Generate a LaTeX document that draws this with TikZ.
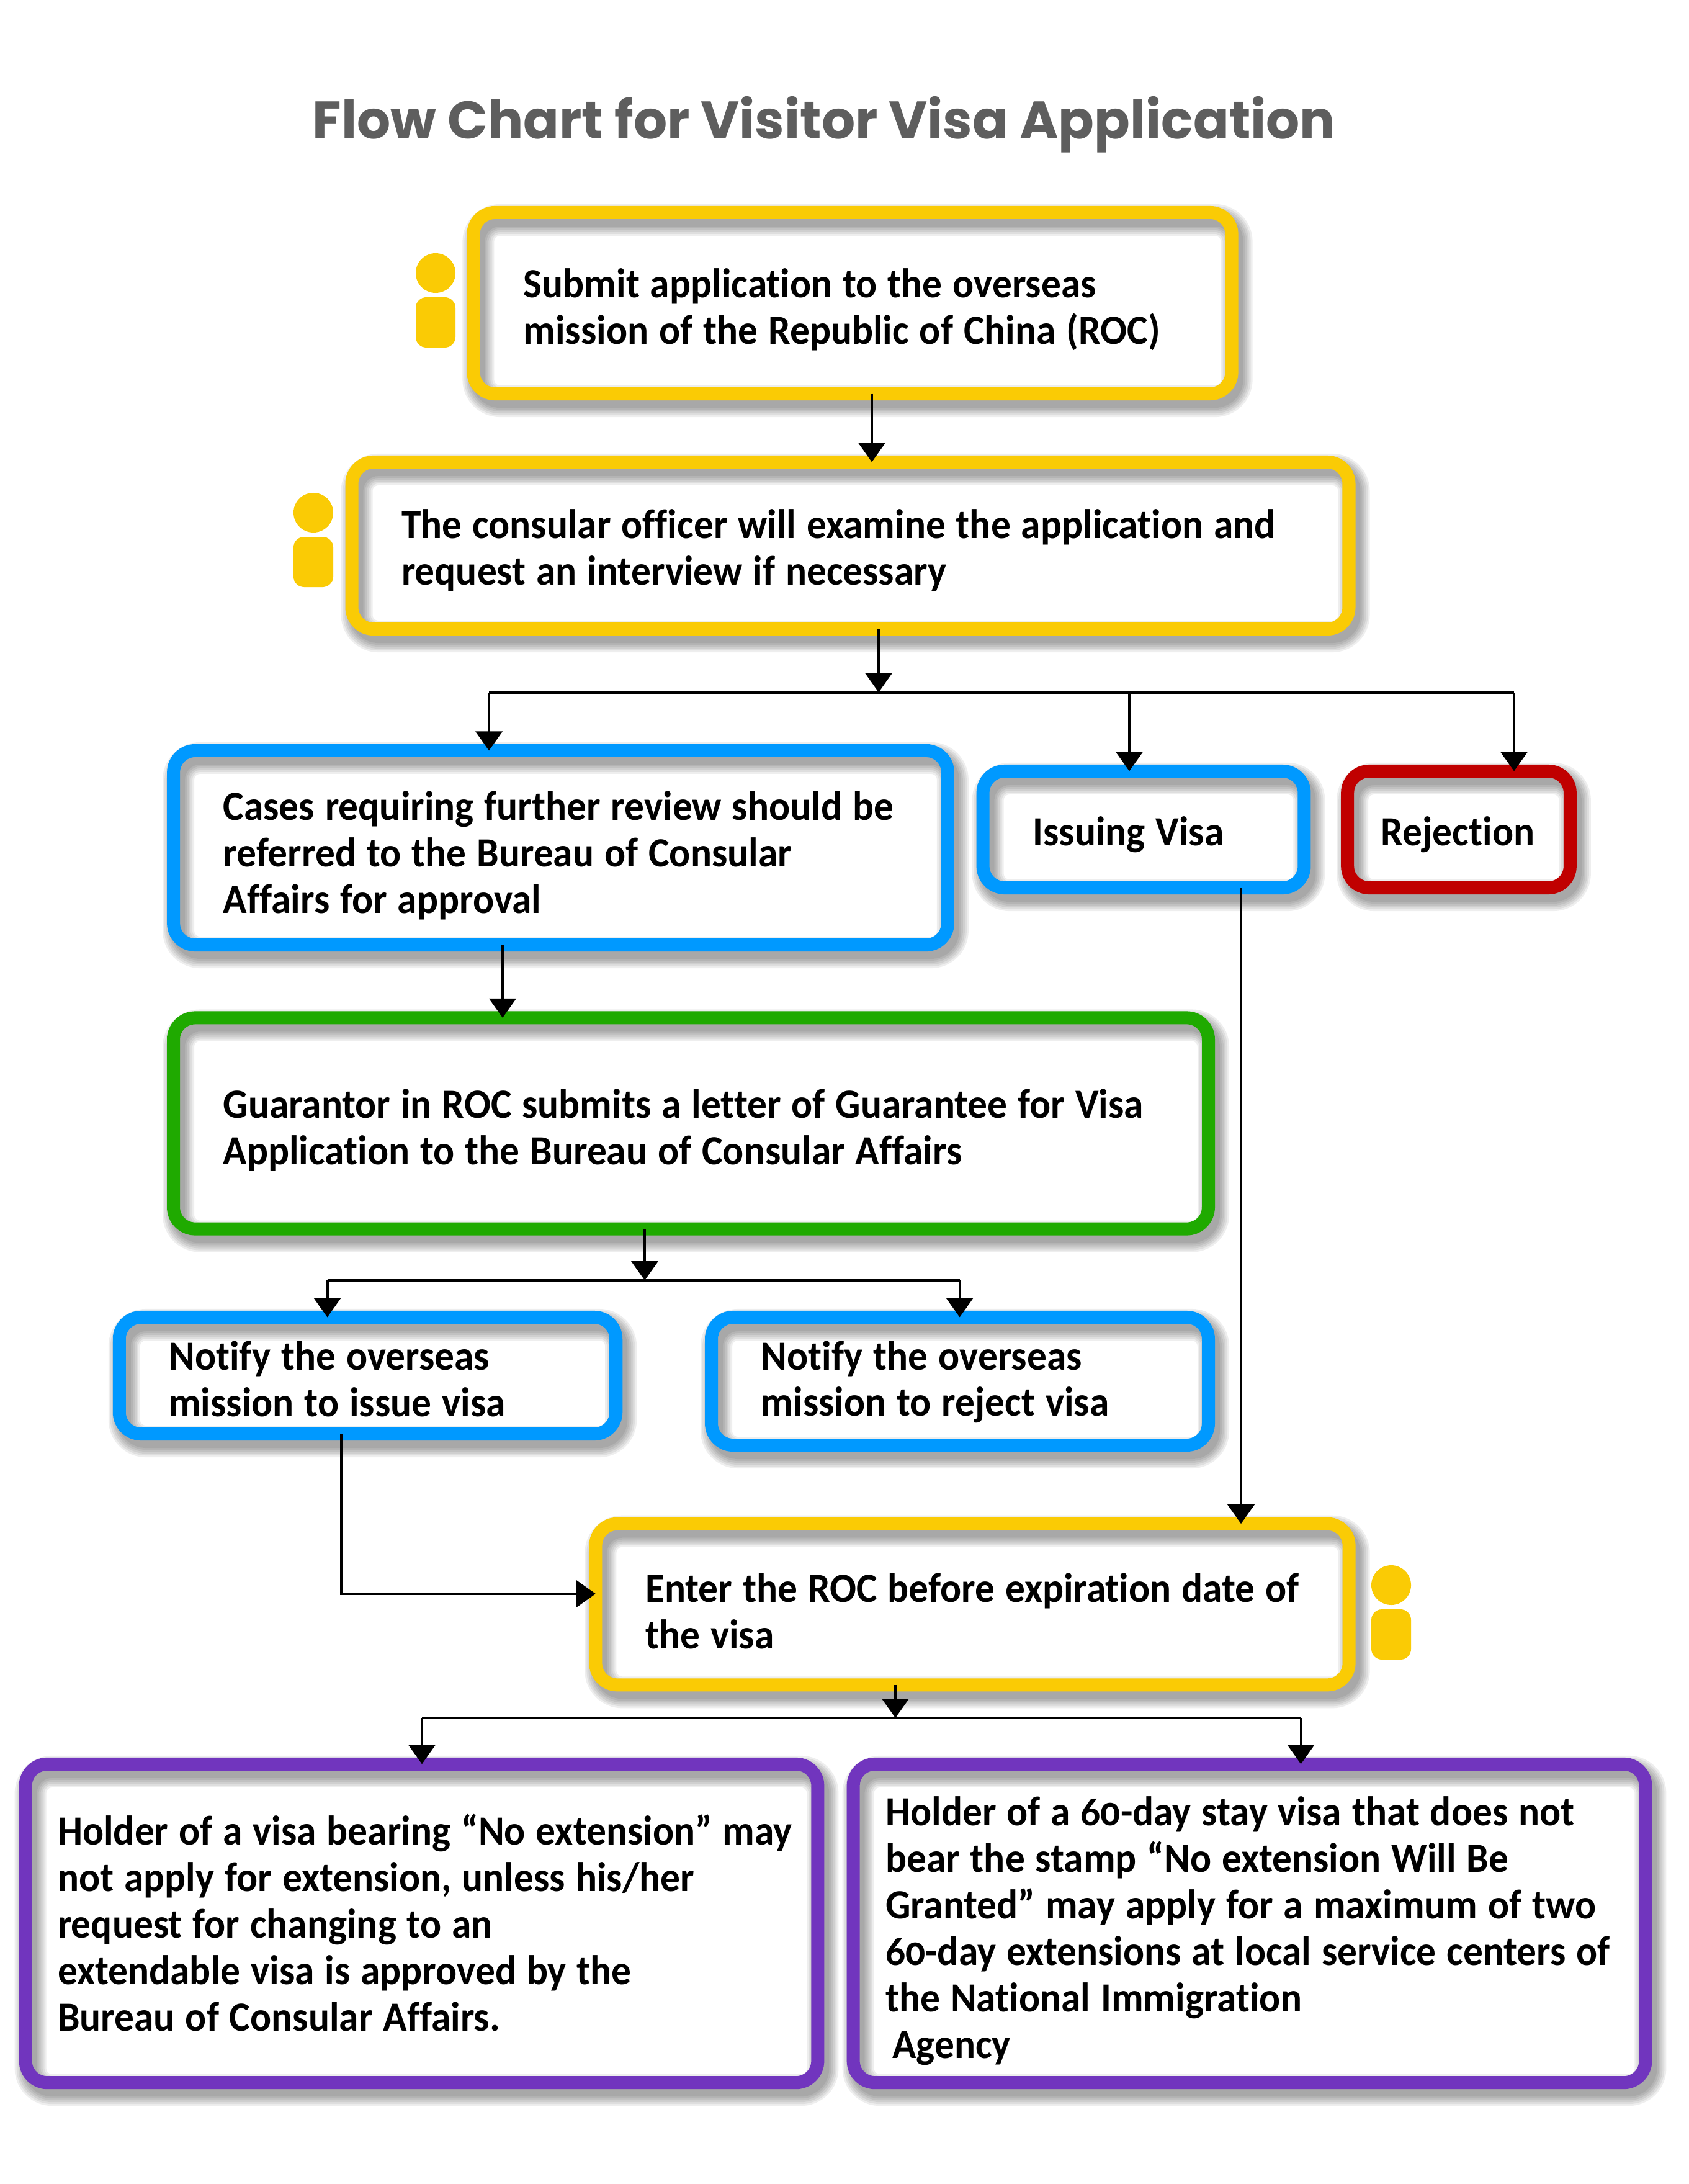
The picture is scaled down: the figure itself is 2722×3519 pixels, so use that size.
\documentclass[tikz,border=0pt]{standalone}
\usepackage{fontspec}
\usetikzlibrary{arrows.meta}
\setmainfont{Carlito}[Numbers=OldStyle,Ligatures=NoCommon,FakeStretch=0.95]
\newfontfamily\titlefont{Poppins}
\newcommand{\bodyfont}{\fontsize{19pt}{21.3pt}\selectfont\bfseries\spaceskip=4.8pt\relax}
\definecolor{goldline}{HTML}{FACB05}
\definecolor{blueline}{HTML}{0099FF}
\definecolor{redline}{HTML}{C00000}
\definecolor{greenline}{HTML}{1FAA00}
\definecolor{purpleline}{HTML}{7135BE}
\tikzset{
  shadowlayer/.style={preaction={transform canvas={xshift=.08cm,yshift=-.12cm},draw=black,draw opacity=.065,line width=#1}},
  softshadow/.style={shadowlayer=.21cm,shadowlayer=.27cm,shadowlayer=.33cm,shadowlayer=.39cm,shadowlayer=.45cm,shadowlayer=.51cm},
  flowbox/.style={rectangle,rounded corners=.35cm,draw=#1,line width=.21cm,outer sep=0pt,
    inner xsep=.8cm,inner ysep=0pt,align=flush left,font=\bodyfont,softshadow},
  flowline/.style={line width=.04cm},
  flowarrow/.style={flowline,-{Triangle[width=.43cm,length=.31cm]}},
  personfill/.style={fill=goldline}
}
\begin{document}
\begin{tikzpicture}[x=.01cm,y=-.01cm]
\useasboundingbox (0,0) rectangle (2722,3519);
\node[text=black!63,font=\titlefont\fontsize{24.2pt}{28pt}\selectfont\bfseries] (title) at (1328,201) {Flow Chart for Visitor Visa Application};

    % boxes
    \node[flowbox=goldline,minimum width=12.215cm,minimum height=2.92cm,text width=10.6cm,text height=19.4pt] (submit) at (1374,488.5)
      {Submit application to the overseas\\mission of the Republic of China (ROC)};
    \node[flowbox=goldline,minimum width=16.06cm,minimum height=2.69cm,text width=14.46cm,text height=17.8pt] (officer) at (1370.5,879)
      {The consular officer will examine the application and\\request an interview if necessary};
    \node[flowbox=blueline,minimum width=12.47cm,minimum height=3.13cm,text width=10.87cm,text height=20.4pt] (review) at (903.5,1366)
      {Cases requiring further review should be\\referred to the Bureau of Consular\\Affairs for approval};
    \node[flowbox=blueline,minimum width=5.175cm,minimum height=1.88cm,text width=3.57cm,text height=17.8pt] (issuing) at (1843,1336.5) {Issuing Visa};
    \node[flowbox=redline,minimum width=3.585cm,minimum height=1.88cm,inner xsep=.54cm,text width=2.5cm,text height=17.8pt] (rejection) at (2351,1336.5) {Rejection};
    \node[flowbox=greenline,minimum width=16.67cm,minimum height=3.4cm,text width=15.07cm,text height=19.7pt] (guarantor) at (1113.5,1810)
      {Guarantor in ROC submits a letter of Guarantee for Visa\\Application to the Bureau of Consular Affairs};
    \node[flowbox=blueline,minimum width=8cm,minimum height=1.88cm,text width=6.4cm,text height=16.5pt] (notifyissue) at (592.5,2216.5)
      {Notify the overseas\\mission to issue visa};
    \node[flowbox=blueline,minimum width=8.005cm,minimum height=2.06cm,text width=6.4cm,text height=14pt] (notifyreject) at (1547,2225.5)
      {Notify the overseas\\mission to reject visa};
    \node[flowbox=goldline,minimum width=12.135cm,minimum height=2.595cm,text width=10.53cm,text height=19.6pt] (enter) at (1567,2585)
      {\mbox{Enter the ROC before expiration date of}\\the visa};
    \node[flowbox=purpleline,minimum width=12.76cm,minimum height=5.13cm,inner xsep=.52cm,text width=11.72cm,text height=13.4pt] (noext) at (679.5,3099)
      {\mbox{Holder of a visa bearing “No extension” may}\\not apply for extension, unless his/her\\request for changing to an\\extendable visa is approved by the\\Bureau of Consular Affairs.};
    \node[flowbox=purpleline,minimum width=12.76cm,minimum height=5.13cm,inner xsep=.52cm,text width=11.72cm,text height=20.4pt] (stay) at (2013.5,3099)
      {Holder of a 60-day stay visa that does not\\bear the stamp “No extension Will Be\\\mbox{Granted” may apply for a maximum of two}\\\mbox{60-day extensions at local service centers of}\\the National Immigration\\\hspace*{3.2pt}Agency};

    % persons
    \foreach \px/\py in {702/440,505/826,2242/2554}{
      \fill[personfill] (\px,\py) circle [radius=32];
      \fill[personfill,rounded corners=.17cm] (\px-32,\py+39) rectangle (\px+32,\py+120);
    }

    % connectors
    \coordinate (dropsubmit) at (1405,0);
    \draw[flowarrow] (submit.south -| dropsubmit) -- (officer.north -| dropsubmit);

    \coordinate (busofficer) at (1416,1115.5);
    \coordinate (dropreview) at (788,1115.5);
    \coordinate (dropissuing) at (1820,1115.5);
    \coordinate (droprejection) at (2440,1115.5);
    \draw[flowarrow] (officer.south -| busofficer) -- (busofficer);
    \draw[flowline] (dropreview) -- (droprejection);
    \draw[flowarrow] (dropreview) -- (review.north -| dropreview);
    \draw[flowarrow] (dropissuing) -- (issuing.north -| dropissuing);
    \draw[flowarrow] (droprejection) -- (rejection.north -| droprejection);

    \coordinate (dropguarantor) at (810,0);
    \draw[flowarrow] (review.south -| dropguarantor) -- (guarantor.north -| dropguarantor);

    \coordinate (busguarantor) at (1039,2063);
    \coordinate (dropnotifyissue) at (527.5,2063);
    \coordinate (dropnotifyreject) at (1546.6,2063);
    \draw[flowarrow] (guarantor.south -| busguarantor) -- (busguarantor);
    \draw[flowline] (dropnotifyissue) -- (dropnotifyreject);
    \draw[flowarrow] (dropnotifyissue) -- (notifyissue.north -| dropnotifyissue);
    \draw[flowarrow] (dropnotifyreject) -- (notifyreject.north -| dropnotifyreject);

    \coordinate (dropvisa) at (2000,0);
    \draw[flowarrow] (issuing.south -| dropvisa) -- (enter.north -| dropvisa);

    \coordinate (dropentry) at (550,2568);
    \draw[flowarrow] (notifyissue.south -| dropentry) -- (dropentry) -- (enter.west |- dropentry);

    \coordinate (busenter) at (1443,2768);
    \coordinate (dropnoext) at (680,2768);
    \coordinate (dropstay) at (2096.5,2768);
    \draw[flowarrow] (enter.south -| busenter) -- (busenter);
    \draw[flowline] (dropnoext) -- (dropstay);
    \draw[flowarrow] (dropnoext) -- (noext.north -| dropnoext);
    \draw[flowarrow] (dropstay) -- (stay.north -| dropstay);
\end{tikzpicture}
\end{document}
